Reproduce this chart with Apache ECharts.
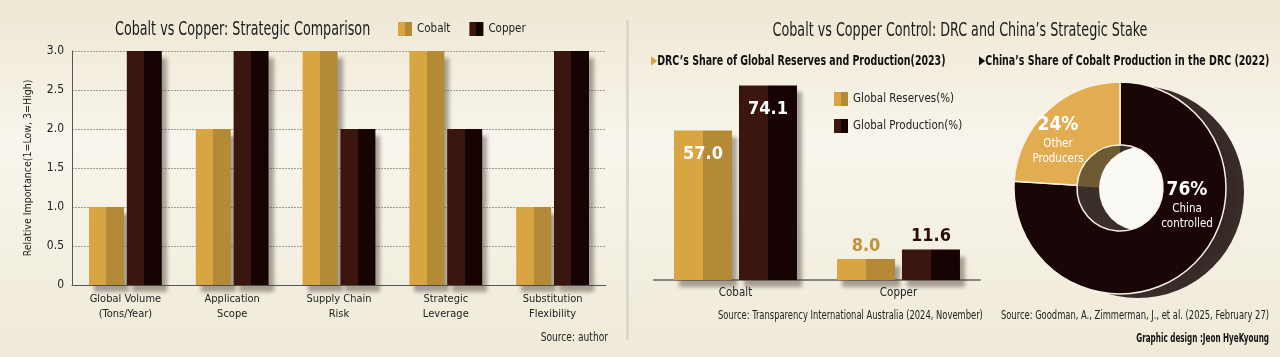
<!DOCTYPE html>
<html><head><meta charset="utf-8">
<script src="https://cdn.jsdelivr.net/npm/echarts@6/dist/echarts.min.js"></script>
<style>html,body{margin:0;padding:0;}#c{width:1280px;height:357px;}</style>
</head><body><div id="c"></div>
<script>
// ---- data ----
const strategicCategories = ['Global Volume\n(Tons/Year)', 'Application\nScope', 'Supply Chain\nRisk', 'Strategic\nLeverage', 'Substitution\nFlexibility'];
const cobaltImportance = [1, 2, 3, 3, 1];
const copperImportance = [3, 3, 2, 2, 3];
const importanceTicks = [0, 0.5, 1, 1.5, 2, 2.5, 3];

const drcCategories = ['Cobalt', 'Copper'];
const drcReserves = [57.0, 8.0];
const drcProduction = [74.1, 11.6];

const chinaShareNames = ['China\ncontrolled', 'Other\nProducers'];
const chinaShareValues = [76, 24];

// ---- styles ----
const F = "'Liberation Sans Narrow','DejaVu Sans Condensed','Liberation Sans',sans-serif";
function two(a, b) {
  return {type: 'linear', x: 0, y: 0, x2: 1, y2: 0, colorStops: [
    {offset: 0, color: a}, {offset: 0.5, color: a}, {offset: 0.5, color: b}, {offset: 1, color: b}]};
}
const cobaltColor = two('#d9a543', '#b48a37');
const copperColor = two('#3b160f', '#170303');
const barShadow = {shadowColor: 'rgba(70,60,50,0.45)', shadowBlur: 4, shadowOffsetX: 5, shadowOffsetY: 7};
const noShadow = {shadowBlur: 0, shadowOffsetX: 0, shadowOffsetY: 0, shadowColor: 'rgba(0,0,0,0)'};

const chart = echarts.init(document.getElementById('c'));

function drcLabel(vals, topColor) {
  return vals.map(v => v > 30
    ? {value: v, label: {show: true, position: 'insideTop', distance: 15, color: '#fff', fontSize: 18, fontWeight: 'bold', fontFamily: F, formatter: p => p.value.toFixed(1)}}
    : {value: v, label: {show: true, position: 'top', distance: 4, color: topColor, fontSize: 18, fontWeight: 'bold', fontFamily: F, formatter: p => p.value.toFixed(1)}});
}

function txt(x, y, text, size, opts) {
  opts = opts || {};
  return {type: 'text', x: x, y: y, scaleX: opts.sx || 0.76, z: 10,
    style: Object.assign({text: text, fill: opts.fill || '#1a1a1a', fontSize: size, fontFamily: F,
      fontWeight: opts.weight || 'normal', align: opts.align || 'left', verticalAlign: 'middle'}, opts.style || {})};
}

const option = {
  animation: false,
  backgroundColor: {type: 'linear', x: 0, y: 0, x2: 0, y2: 1, colorStops: [
    {offset: 0, color: '#eee7d3'}, {offset: 0.4, color: '#f8f5ec'}, {offset: 1, color: '#efead8'}]},
  textStyle: {fontFamily: F},
  legend: [
    {data: ['Cobalt', 'Copper'], left: 398, top: 22, padding: 0, itemWidth: 14, itemHeight: 14, itemGap: 19, icon: 'rect',
     itemStyle: noShadow, textStyle: {fontFamily: F, fontSize: 11.5, color: '#222'}},
    {data: ['Global Reserves(%)', 'Global Production(%)'], orient: 'vertical', left: 834, top: 92, padding: 0, itemWidth: 14, itemHeight: 14, itemGap: 13, icon: 'rect',
     itemStyle: noShadow, textStyle: {fontFamily: F, fontSize: 11.5, color: '#222'}}
  ],
  grid: [
    {left: 72, top: 51, width: 534, height: 234},
    {left: 654, top: 70, width: 326, height: 210}
  ],
  xAxis: [
    {type: 'category', gridIndex: 0, data: strategicCategories,
     axisLine: {lineStyle: {color: '#555', width: 1}}, axisTick: {show: false},
     axisLabel: {fontFamily: F, fontSize: 11, lineHeight: 15, color: '#222', margin: 7}},
    {type: 'category', gridIndex: 1, data: drcCategories,
     axisLine: {lineStyle: {color: '#8a8680', width: 2}}, axisTick: {show: false},
     axisLabel: {fontFamily: F, fontSize: 11.5, color: '#222', margin: 7}}
  ],
  yAxis: [
    {type: 'value', gridIndex: 0, min: importanceTicks[0], max: importanceTicks[importanceTicks.length - 1], interval: importanceTicks[1] - importanceTicks[0],
     name: 'Relative Importance(1=Low, 3=High)', nameLocation: 'middle', nameGap: 38,
     nameTextStyle: {fontFamily: F, fontSize: 10.5, color: '#222'},
     axisLine: {show: true, lineStyle: {color: '#555'}}, axisTick: {show: false},
     axisLabel: {fontFamily: F, fontSize: 12, color: '#222', margin: 8, formatter: v => v === 0 ? '0' : v.toFixed(1)},
     splitLine: {lineStyle: {color: '#a09c94', type: [2, 1], width: 1}}},
    {type: 'value', gridIndex: 1, min: 0, max: 80, show: false, splitLine: {show: false}}
  ],
  series: [
    {name: 'Cobalt', type: 'bar', xAxisIndex: 0, yAxisIndex: 0, data: cobaltImportance, barWidth: 35, barGap: '8%',
     itemStyle: Object.assign({color: cobaltColor}, barShadow)},
    {name: 'Copper', type: 'bar', xAxisIndex: 0, yAxisIndex: 0, data: copperImportance, barWidth: 35, barGap: '8%',
     itemStyle: Object.assign({color: copperColor}, barShadow)},
    {name: 'Global Reserves(%)', type: 'bar', xAxisIndex: 1, yAxisIndex: 1, data: drcLabel(drcReserves, '#c0903a'), barWidth: 58, barGap: '12%',
     itemStyle: Object.assign({color: cobaltColor}, barShadow)},
    {name: 'Global Production(%)', type: 'bar', xAxisIndex: 1, yAxisIndex: 1, data: drcLabel(drcProduction, '#2a0d0a'), barWidth: 58, barGap: '12%',
     itemStyle: Object.assign({color: copperColor}, barShadow)},
    // 3D side of the donut
    {type: 'pie', name: 'side', center: [1138, 192], radius: [0, 106], startAngle: 90, silent: true, z: 1,
     data: chinaShareValues.map((v, i) => ({value: v, name: chinaShareNames[i]})),
     itemStyle: {color: {type: 'radial', x: 0.5, y: 0.5, r: 0.5, colorStops: [{offset: 0, color: '#1c0d0b'}, {offset: 1, color: '#3a2c29'}]}},
     label: {show: false}, labelLine: {show: false}, emphasis: {disabled: true}},
    // inner wall of the hole
    {type: 'pie', name: 'wall', center: [1120, 189], radius: [0, 43], startAngle: 90, silent: true, z: 2,
     data: chinaShareValues.map((v, i) => ({value: v, name: chinaShareNames[i], itemStyle: {color: i === 0 ? '#3b2e2b' : '#6e5a33'}})),
     label: {show: false}, labelLine: {show: false}, emphasis: {disabled: true}},
    // front face
    {type: 'pie', name: 'China\u2019s Share', center: [1120, 188], radius: [43, 106], startAngle: 90, z: 4,
     data: chinaShareValues.map((v, i) => ({value: v, name: chinaShareNames[i], itemStyle: {color: i === 0 ? '#1b0607' : '#e2ad50'}})),
     itemStyle: {borderColor: '#f6f1e2', borderWidth: 1.5},
     labelLine: {show: false}, emphasis: {disabled: true},
     label: {show: true, position: 'inside', fontFamily: F,
       formatter: p => `{p|${p.value}%}\n` + p.name.split('\n').map(s => `{n|${s}}`).join('\n'),
       rich: {p: {fontFamily: F, fontSize: 19, fontWeight: 'bold', color: '#fff', lineHeight: 23},
              n: {fontFamily: F, fontSize: 11.5, color: '#fff', lineHeight: 15}}},
     labelLayout: function (params) {
       const pos = [[1187, 205], [1058, 140]][params.dataIndex];
       return {x: pos[0], y: pos[1], align: 'center', verticalAlign: 'middle'};
     }}
  ],
  graphic: [
    {type: 'rect', left: 626, top: 20, shape: {width: 3, height: 320}, style: {fill: '#dcd8cd'}, z: 1},
    {type: 'circle', shape: {cx: 1141, cy: 189, r: 42}, style: {fill: '#fbf9f4'}, z: 3, zlevel: 0},
    txt(115, 30, 'Cobalt vs Copper: Strategic Comparison', 19, {sx: 0.745}),
    txt(960, 31, 'Cobalt vs Copper Control: DRC and China\u2019s Strategic Stake', 19, {sx: 0.745, align: 'center'}),
    txt(651, 61, '{a|\u25B6}{b|DRC\u2019s Share of Global Reserves and Production(2023)}', 14, {sx: 0.75, style: {
      rich: {a: {fill: '#d9a443', fontSize: 12, fontFamily: F}, b: {fill: '#111', fontSize: 14, fontWeight: 'bold', fontFamily: F}}}}),
    txt(979, 61, '{a|\u25B6}{b|China\u2019s Share of Cobalt Production in the DRC (2022)}', 14, {sx: 0.75, style: {
      rich: {a: {fill: '#111', fontSize: 12, fontFamily: F}, b: {fill: '#111', fontSize: 14, fontWeight: 'bold', fontFamily: F}}}}),
    txt(608, 338, 'Source: author', 13, {sx: 0.78, align: 'right', fill: '#222'}),
    txt(718, 316, 'Source: Transparency International Australia (2024, November)', 12, {sx: 0.775, fill: '#222'}),
    txt(1269, 316, 'Source: Goodman, A., Zimmerman, J., et al. (2025, February 27)', 12, {sx: 0.775, align: 'right', fill: '#222'}),
    txt(1269, 339, 'Graphic design :Jeon HyeKyoung', 12, {sx: 0.67, align: 'right', fill: '#111', weight: 'bold'})
  ]
};
chart.setOption(option);
</script>
</body></html>
